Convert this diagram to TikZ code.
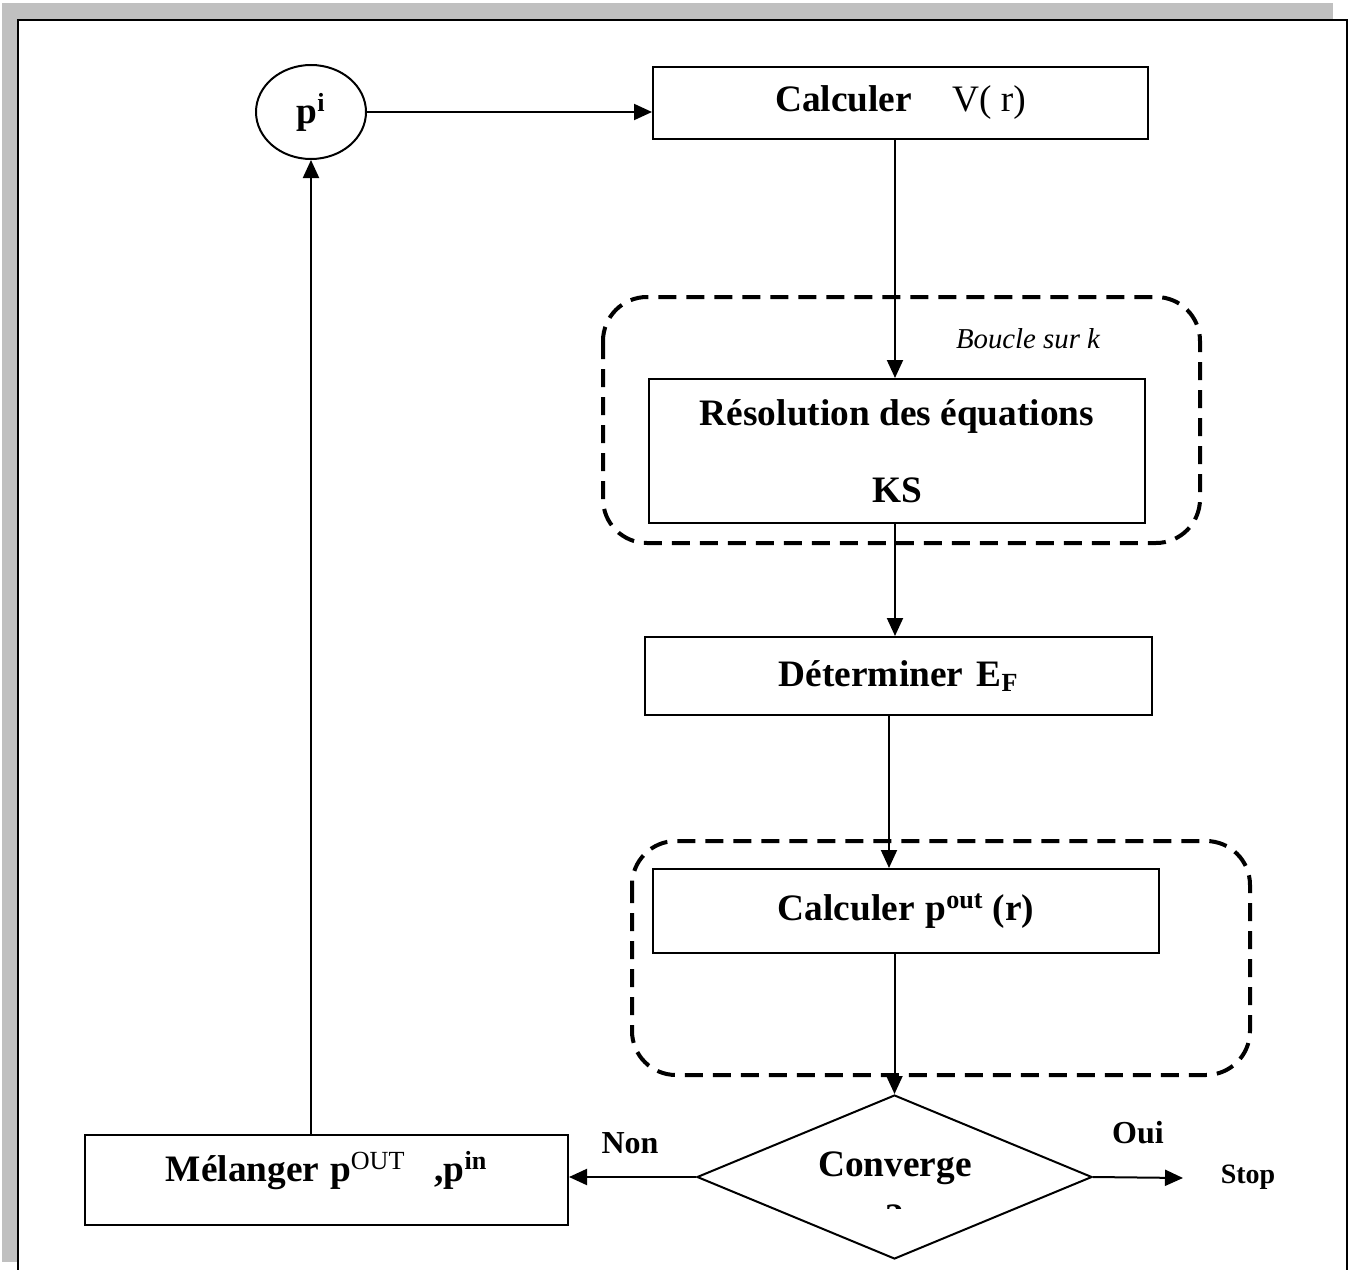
\documentclass[tikz,border=0pt]{standalone}
\usepackage{fontspec}
\setmainfont{Liberation Serif}
\usetikzlibrary{shapes.geometric,arrows.meta,calc}
\definecolor{framegray}{RGB}{192,192,192}
\begin{document}
\begin{tikzpicture}[x=0.75pt,y=-0.75pt,
  boxstyle/.style={draw, line width=1.5pt, rectangle, inner sep=0pt, align=center,
     font=\fontsize{28}{34}\selectfont\bfseries},
  loopbox/.style={draw, line width=3pt, dash pattern=on 13.5pt off 7.5pt, rounded corners=33pt},
  arr/.style={line width=1.5pt, -{Triangle[length=13.5pt,width=12pt]}},
  lbl/.style={font=\fontsize{24}{28}\selectfont\bfseries, inner sep=0pt}
]
\useasboundingbox (0,0) rectangle (1354,1270);
% frame
\fill[framegray] (2,3) rectangle (1333,20);
\fill[framegray] (2,3) rectangle (17,1262);
\draw[line width=2pt] (18,1272) -- (18,20) -- (1347,20) -- (1347,1272);

% dashed loops
\draw[loopbox] (603,297) rectangle (1200,543);
\draw[loopbox] (632,841) rectangle (1250,1075);

% nodes
\node[draw, line width=1.5pt, ellipse, minimum width=82.5pt, minimum height=70.5pt, inner sep=0pt,
      font=\fontsize{28}{34}\selectfont\bfseries] (pi) at (311,112) {p\textsuperscript{i}};
\node[boxstyle, minimum width=371.25pt, minimum height=54pt] (calcV) at (900.5,103)
   {Calculer\hspace{30pt}{\mdseries V( r)}};
\node[boxstyle, minimum width=372pt, minimum height=108pt, font=\fontsize{28}{58}\selectfont\bfseries]
   (reso) at (897,451) {Résolution des équations\\KS};
\node[font=\fontsize{21.6}{26}\selectfont\itshape, inner sep=0pt] (boucle) at (1028,339) {Boucle sur k};
\node[boxstyle, minimum width=380.25pt, minimum height=58.5pt] (detEF) at (898.5,676)
   {Déterminer\hspace{10pt}E\textsubscript{F}};
\node[boxstyle, minimum width=379.5pt, minimum height=63pt] (calcP) at (906,911)
   {Calculer\hspace{8pt}p\textsuperscript{out} (r)};
\node[draw, line width=1.5pt, diamond, minimum width=296.25pt, minimum height=123pt, inner sep=0pt] (conv) at (894.5,1177) {};
\node[font=\fontsize{28}{34}\selectfont\bfseries, inner sep=0pt] (convtext) at (895,1168) {Converge};
\begin{scope}
  \clip (880,1200) rectangle (910,1208);
  \node[font=\fontsize{28}{34}\selectfont\bfseries, inner sep=0pt, anchor=base] (qmark) at (895,1229) {?};
\end{scope}
\node[boxstyle, minimum width=362.25pt, minimum height=67.5pt, text depth=21pt] (mel) at (326.5,1180)
   {Mélanger\hspace{8pt}p\textsuperscript{{\mdseries OUT}}\hspace{22pt},p\textsuperscript{in}};
\node[font=\fontsize{21}{26}\selectfont\bfseries, inner sep=0pt] (stop) at (1248,1177) {Stop};
\coordinate (stopin) at (1183,1178);
\node[lbl] (non) at (630,1143) {Non};
\node[lbl] (oui) at (1138,1133) {Oui};

% connectors
\draw[arr] (pi.east) -- (calcV.west |- pi.east);
\draw[arr] (calcV.south -| 895,0) -- (reso.north -| 895,0);
\draw[arr] (reso.south -| 895,0) -- (detEF.north -| 895,0);
\draw[arr] (detEF.south -| 889,0) -- (calcP.north -| 889,0);
\draw[arr] (calcP.south -| conv.north) -- (conv.north);
\draw[arr] (conv.west) -- (mel.east |- conv.west);
\draw[arr] (conv.east) -- (stopin);
\draw[arr] (mel.north -| pi.south) -- (pi.south);
\end{tikzpicture}
\end{document}
